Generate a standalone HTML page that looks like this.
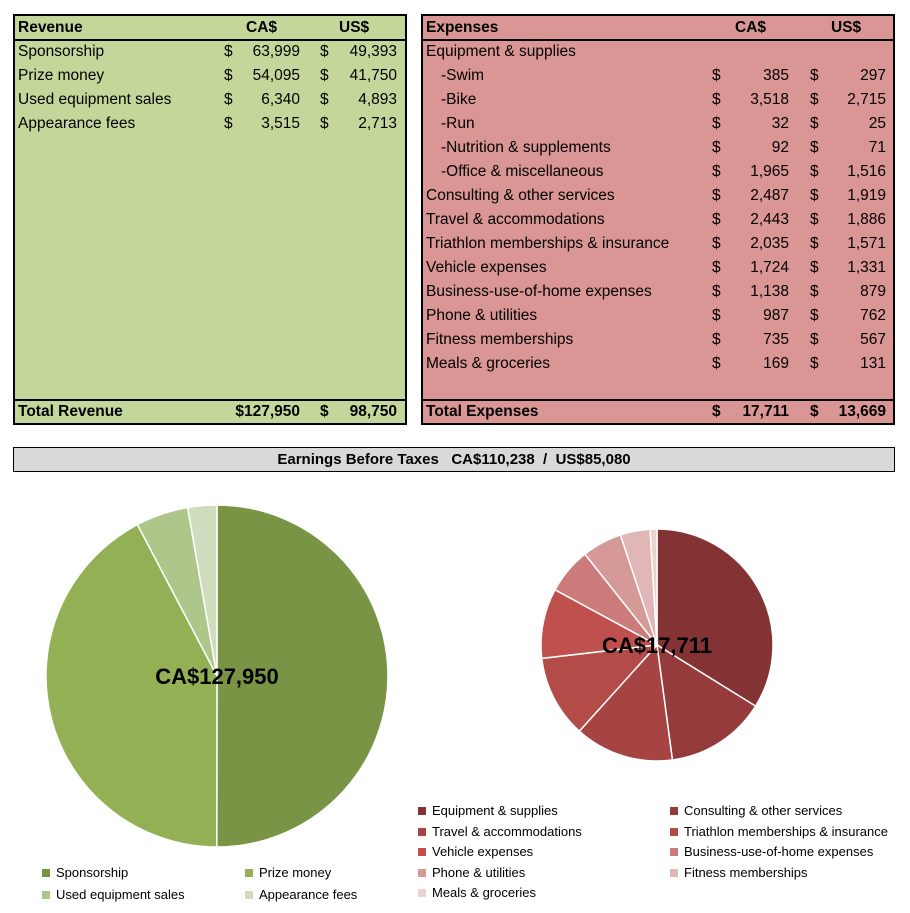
<!DOCTYPE html>
<html><head><meta charset="utf-8"><style>
body{margin:0;width:910px;height:913px;background:#fff;font-family:"Liberation Sans",sans-serif;position:relative;overflow:hidden}
.box{position:absolute;border:2px solid #000;box-sizing:border-box}
.t{position:absolute;font-size:15.5px;white-space:nowrap;line-height:24px}
.b{font-weight:bold}
.r{text-align:right}
.lg{position:absolute;font-size:13px;white-space:nowrap;line-height:16px}
.lg i{display:inline-block;width:8px;height:8px;margin-right:6px}
</style></head><body>
<div class="box" style="left:13px;top:14px;width:394px;height:411px;background:#c4d79b"></div>
<div style="position:absolute;left:13px;top:39px;width:394px;height:2px;background:#000"></div>
<div style="position:absolute;left:13px;top:399px;width:394px;height:2px;background:#000"></div>
<div class="box" style="left:421px;top:14px;width:474px;height:411px;background:#da9694"></div>
<div style="position:absolute;left:421px;top:39px;width:474px;height:2px;background:#000"></div>
<div style="position:absolute;left:421px;top:399px;width:474px;height:2px;background:#000"></div>
<div id="rows"></div>
<div class="box" style="left:13px;top:447px;width:882px;height:25px;background:#d9d9d9;border-width:1px;text-align:center;font-weight:bold;font-size:15px;line-height:23px">Earnings Before Taxes&nbsp;&nbsp; CA$110,238&nbsp; /&nbsp; US$85,080</div>
<svg id="pies" width="910" height="913" style="position:absolute;left:0;top:0"></svg>
<div id="legends"></div>
<script>
const revCats=["Sponsorship","Prize money","Used equipment sales","Appearance fees"];
const revCA=[63999,54095,6340,3515];
const revUS=[49393,41750,4893,2713];
const revColors=["#7a9445","#93b055","#afc68a","#cfdcbd"];
const expRows=["Equipment & supplies","-Swim","-Bike","-Run","-Nutrition & supplements","-Office & miscellaneous","Consulting & other services","Travel & accommodations","Triathlon memberships & insurance","Vehicle expenses","Business-use-of-home expenses","Phone & utilities","Fitness memberships","Meals & groceries"];
const expRowCA=[null,385,3518,32,92,1965,2487,2443,2035,1724,1138,987,735,169];
const expRowUS=[null,297,2715,25,71,1516,1919,1886,1571,1331,879,762,567,131];
const expCats=["Equipment & supplies","Consulting & other services","Travel & accommodations","Triathlon memberships & insurance","Vehicle expenses","Business-use-of-home expenses","Phone & utilities","Fitness memberships","Meals & groceries"];
const expVals=[5992,2487,2443,2035,1724,1138,987,735,169];
const expColors=["#843335","#953b3b","#a54442","#b34b48","#c0504d","#cb7b79","#d59a98","#e0b7b6","#ecd3d2"];
const fmt=v=>v.toLocaleString('en-US');
const R=document.getElementById('rows');
function txt(s,x,y,cls,name,right){const d=document.createElement('div');d.className='t '+(cls||'');d.textContent=s;


d.style.top=(y-12)+'px';if(right){d.style.left=(x-150)+'px';d.style.width='150px';d.style.textAlign='right';}else d.style.left=x+'px';R.appendChild(d);}
txt("Revenue",18,28,'b','revenue-title');txt("CA$",246,28,'b','revenue-ca-header');txt("US$",339,28,'b','revenue-us-header');
revCats.forEach((c,i)=>{const y=52+24*i;txt(c,18,y,'','revenue-row-label');txt("$",224,y,'','currency-sign');txt(fmt(revCA[i]),300,y,'','revenue-ca-value',1);txt("$",320,y,'','currency-sign');txt(fmt(revUS[i]),397,y,'','revenue-us-value',1);});
txt("Total Revenue",18,412,'b','total-revenue-label');txt("$127,950",300,412,'b','total-revenue-ca',1);txt("$",320,412,'b','currency-sign');txt("98,750",397,412,'b','total-revenue-us',1);
txt("Expenses",426,28,'b','expenses-title');txt("CA$",735,28,'b','expenses-ca-header');txt("US$",831,28,'b','expenses-us-header');
expRows.forEach((c,i)=>{const y=52+24*i;txt(c,426+(c[0]=='-'?15:0),y,'','expense-row-label');if(expRowCA[i]!=null){txt("$",712,y,'','currency-sign');txt(fmt(expRowCA[i]),789,y,'','expense-ca-value',1);txt("$",810,y,'','currency-sign');txt(fmt(expRowUS[i]),886,y,'','expense-us-value',1);}});
txt("Total Expenses",426,412,'b','total-expenses-label');txt("$",712,412,'b','currency-sign');txt("17,711",789,412,'b','total-expenses-ca',1);txt("$",810,412,'b','currency-sign');txt("13,669",886,412,'b','total-expenses-us',1);
const svg=document.getElementById('pies');const NS="http://www.w3.org/2000/svg";
function pie(vals,cols,cx,cy,r,label,name){const tot=vals.reduce((a,b)=>a+b,0);let a0=0;
vals.forEach((v,i)=>{const a1=a0+v/tot*2*Math.PI;const x0=cx+r*Math.sin(a0),y0=cy-r*Math.cos(a0),x1=cx+r*Math.sin(a1),y1=cy-r*Math.cos(a1);
const p=document.createElementNS(NS,'path');p.setAttribute('d',`M${cx},${cy}L${x0},${y0}A${r},${r} 0 ${a1-a0>Math.PI?1:0} 1 ${x1},${y1}Z`);
p.setAttribute('fill',cols[i]);p.setAttribute('stroke','#fff');p.setAttribute('stroke-width','1.5');


svg.appendChild(p);a0=a1;});
const t=document.createElementNS(NS,'text');t.setAttribute('x',cx);t.setAttribute('y',cy+8);t.setAttribute('text-anchor','middle');t.setAttribute('font-size','22');t.setAttribute('font-weight','bold');t.setAttribute('font-family','Liberation Sans, sans-serif');t.textContent=label;


svg.appendChild(t);}
pie(revCA,revColors,217,676,171,"CA$127,950","revenue-pie");
pie(expVals,expColors,657,645,116,"CA$17,711","expenses-pie");
const L=document.getElementById('legends');
function leg(s,c,x,y){const d=document.createElement('div');d.className='lg';d.style.left=x+'px';d.style.top=(y-8)+'px';d.innerHTML='<i style="background:'+c+'"></i>';d.appendChild(document.createTextNode(s));


L.appendChild(d);}
revCats.forEach((c,i)=>leg(c,revColors[i],i%2?245:42,873+22*Math.floor(i/2)));
expCats.forEach((c,i)=>leg(c,expColors[i],i%2?670:418,811+20.5*Math.floor(i/2)));
</script>
</body></html>
